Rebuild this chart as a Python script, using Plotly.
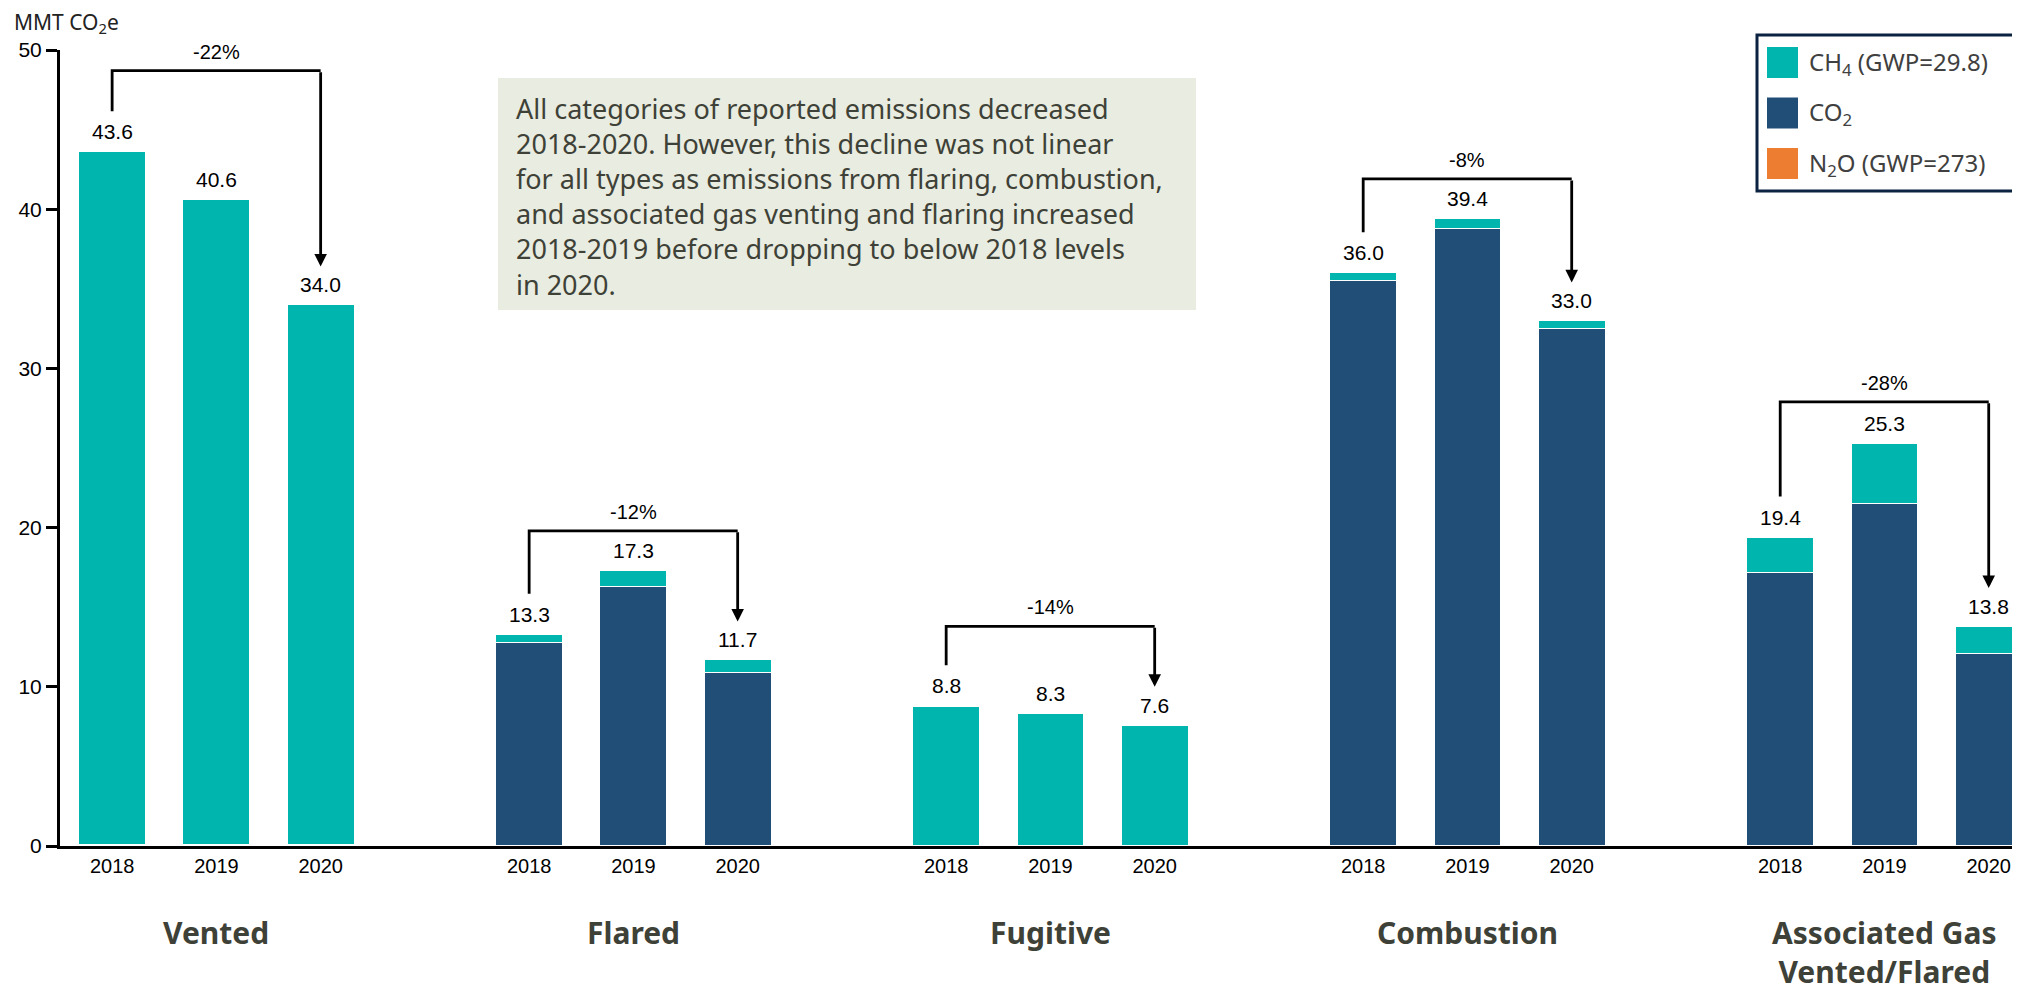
import plotly.graph_objects as go

groups = ["Vented", "Flared", "Fugitive", "Combustion", "Associated Gas<br>Vented/Flared"]
years = ["2018", "2019", "2020"]

# MMT CO2e by gas, one row per category, columns 2018-2020
co2 = [
    [0.1, 0.1, 0.1],
    [12.8, 16.3, 10.9],
    [None, None, None],
    [35.5, 38.8, 32.5],
    [17.2, 21.5, 12.1],
]
ch4 = [
    [43.5, 40.5, 33.9],
    [0.5, 1.0, 0.8],
    [8.8, 8.3, 7.6],
    [0.5, 0.6, 0.5],
    [2.2, 3.8, 1.7],
]
totals = [
    [43.6, 40.6, 34.0],
    [13.3, 17.3, 11.7],
    [8.8, 8.3, 7.6],
    [36.0, 39.4, 33.0],
    [19.4, 25.3, 13.8],
]
changes = ["-22%", "-12%", "-14%", "-8%", "-28%"]
bracket_top = [48.7, 19.8, 13.8, 41.9, 27.9]

legend_names = ["CH<sub>4</sub> (GWP=29.8)", "CO<sub>2</sub>", "N<sub>2</sub>O (GWP=273)"]
legend_colors = ["#00B5AD", "#214E76", "#ED7D31"]

note = ("All categories of reported emissions decreased<br>"
        "2018-2020. However, this decline was not linear<br>"
        "for all types as emissions from flaring, combustion,<br>"
        "and associated gas venting and flaring increased<br>"
        "2018-2019 before dropping to below 2018 levels<br>"
        "in 2020.")

TEAL, NAVY = "#00B5AD", "#214E76"
TXT = "#3E4137"
ARIAL = "Arial, Liberation Sans, sans-serif"
SANS = "Noto Sans, sans-serif"

# page has an 8px body margin, so the figure sits at (8, 8)
OFF = 8
W, H = 2020 - OFF, 984 - OFF
ML, MR, MT, MB = 52, 0, 42, 138


def px(x):
    return (x - OFF - ML) / (W - ML - MR)


def py(y):
    return (H - MB - (y - OFF)) / (H - MT - MB)


xs = [4 * g + i for g in range(len(groups)) for i in range(3)]
flat = lambda rows: [v for r in rows for v in r]

fig = go.Figure()
fig.add_bar(x=xs, y=flat(co2), name="CO2", marker_color=NAVY,
            marker_line=dict(color="white", width=1.2), width=0.643)
fig.add_bar(x=xs, y=flat(ch4), name="CH4", marker_color=TEAL,
            marker_line=dict(color="white", width=1.2), width=0.643)

# value labels
for x, t in zip(xs, flat(totals)):
    fig.add_annotation(x=x, y=t, text=f"{t:.1f}", showarrow=False, yanchor="middle",
                       yshift=20, font=dict(family=ARIAL, size=21, color="black"))

# change brackets
for g in range(len(groups)):
    x0, x1 = 4 * g, 4 * g + 2
    top = bracket_top[g]
    y0 = totals[g][0] + 2.55
    y1 = totals[g][2] + 2.4
    fig.add_shape(type="path", xref="x", yref="y",
                  path=f"M {x0},{y0} L {x0},{top} L {x1},{top}",
                  line=dict(color="black", width=2.8))
    fig.add_annotation(x=x1, y=y1, ax=x1, ay=top, axref="x", ayref="y", xref="x", yref="y",
                       text="", showarrow=True, arrowhead=2, arrowsize=0.9,
                       arrowwidth=2.8, arrowcolor="black", standoff=0)
    fig.add_annotation(x=4 * g + 1, y=top, text=changes[g], showarrow=False,
                       yanchor="middle", yshift=19,
                       font=dict(family=ARIAL, size=20, color="black"))

# category names
for g, name in enumerate(groups):
    fig.add_annotation(x=4 * g + 1, y=py(910), xref="x", yref="paper", text=f"<b>{name}</b>",
                       showarrow=False, yanchor="top",
                       font=dict(family=SANS, size=30, color=TXT))

# y axis title
fig.add_annotation(x=px(12), y=py(23), xref="paper", yref="paper",
                   text="MMT CO<sub>2</sub>e", showarrow=False, xanchor="left",
                   yanchor="middle", font=dict(family=SANS, size=21, color="#222222"))

# note box
fig.add_shape(type="rect", xref="paper", yref="paper",
              x0=px(498), x1=px(1196), y0=py(310), y1=py(78),
              fillcolor="#E9ECE0", line=dict(width=0), layer="below")
fig.add_annotation(x=px(514), y=py(88), xref="paper", yref="paper", text=note,
                   showarrow=False, xanchor="left", yanchor="top", align="left",
                   font=dict(family=SANS, size=27, color=TXT))

# legend box
fig.add_shape(type="rect", xref="paper", yref="paper",
              x0=px(1757), x1=px(2040), y0=py(191), y1=py(35),
              fillcolor="white", line=dict(color="#0B2341", width=3))
for k, (name, col) in enumerate(zip(legend_names, legend_colors)):
    cy = 62.5 + 50.5 * k
    fig.add_shape(type="rect", xref="paper", yref="paper",
                  x0=px(1767), x1=px(1798), y0=py(cy + 15.5), y1=py(cy - 15.5),
                  fillcolor=col, line=dict(width=0))
    fig.add_annotation(x=px(1807), y=py(cy), xref="paper", yref="paper", text=name,
                       showarrow=False, xanchor="left", yanchor="middle",
                       font=dict(family=SANS, size=24, color="#404040"))

fig.update_layout(
    width=W, height=H, barmode="stack", showlegend=False,
    plot_bgcolor="white", paper_bgcolor="white",
    margin=dict(l=ML, r=MR, t=MT, b=MB),
    xaxis=dict(range=[-0.5, 18.3], tickvals=xs, ticktext=years * len(groups),
               showline=True, linecolor="black", linewidth=3, ticks="",
               showgrid=False, zeroline=False,
               tickfont=dict(family=ARIAL, size=20, color="black")),
    yaxis=dict(range=[0, 50], tickvals=[0, 10, 20, 30, 40, 50], showline=True,
               linecolor="black", linewidth=3, ticks="outside", ticklen=11,
               tickwidth=3, tickcolor="black", showgrid=False, zeroline=False,
               tickfont=dict(family=ARIAL, size=21, color="black")),
)

fig.write_html("out.html")
